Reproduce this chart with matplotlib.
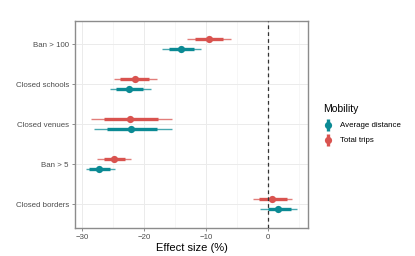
#!/usr/bin/env python3
"""Effect size of interventions on mobility: point ranges per intervention."""
import numpy as np
import matplotlib
matplotlib.use("Agg")
import matplotlib.pyplot as plt
from matplotlib.lines import Line2D
from matplotlib.legend_handler import HandlerTuple

plt.rcParams["font.family"] = ["Liberation Sans", "DejaVu Sans"]

interventions = ["Ban > 100", "Closed schools", "Closed venues", "Ban > 5", "Closed borders"]

# Total trips
trips_mid = [-9.5, -21.5, -22.2, -24.8, 0.75]
trips_lo80 = [-11.7, -23.8, -26.4, -26.5, -1.35]
trips_hi80 = [-7.2, -19.1, -17.7, -23.1, 3.1]
trips_lo95 = [-13.0, -24.8, -28.5, -27.5, -2.4]
trips_hi95 = [-5.9, -17.9, -15.5, -22.1, 4.0]

# Average distance
dist_mid = [-14.0, -22.4, -22.1, -27.2, 1.7]
dist_lo80 = [-15.9, -24.5, -26.0, -28.8, 0.0]
dist_hi80 = [-11.9, -20.2, -17.9, -25.5, 3.75]
dist_lo95 = [-17.0, -25.5, -28.0, -29.4, -1.25]
dist_hi95 = [-10.8, -18.9, -15.5, -24.6, 4.8]

RED = "#d9534f"
TEAL = "#0b8a94"


def main():
    fig = plt.figure(figsize=(4.15, 2.56), dpi=100)
    ax = fig.add_axes([0.181, 0.109, 0.561, 0.809])

    ypos = np.arange(len(interventions))[::-1] + 1.0
    series = [
        (trips_mid, trips_lo80, trips_hi80, trips_lo95, trips_hi95, RED, 0.125),
        (dist_mid, dist_lo80, dist_hi80, dist_lo95, dist_hi95, TEAL, -0.125),
    ]
    for mid, lo80, hi80, lo95, hi95, color, off in series:
        y = ypos + off
        ax.hlines(y, lo95, hi95, color=color, lw=1.0, alpha=0.75, zorder=3)
        ax.hlines(y, lo80, hi80, color=color, lw=2.4, zorder=4)
        ax.plot(mid, y, "o", color=color, ms=5.2, zorder=5, mew=0)

    ax.axvline(0, color="#333333", lw=0.9, ls=(0, (3, 2.5)), zorder=6)

    ax.set_xlim(-31.1, 6.5)
    ax.set_ylim(0.4, 5.575)
    ax.set_xticks([-30, -20, -10, 0])
    ax.set_xticks([-25, -15, -5, 5], minor=True)
    ax.set_xticklabels(["\u221230", "\u221220", "\u221210", "0"])
    ax.set_yticks(ypos)
    ax.set_yticklabels(interventions)

    ax.grid(True, which="major", color="#ebebeb", lw=0.7)
    ax.grid(True, which="minor", axis="x", color="#f3f3f3", lw=0.5)
    ax.set_axisbelow(True)
    for s in ax.spines.values():
        s.set_color("#8c8c8c")
        s.set_linewidth(1.0)
    ax.tick_params(axis="both", which="major", labelsize=5.7, colors="#8c8c8c",
                   labelcolor="#4d4d4d", length=2.5, width=0.7, pad=2)
    ax.tick_params(which="minor", length=0)
    ax.set_xlabel("Effect size (%)", fontsize=8, labelpad=1)

    handles = [
        (Line2D([], [], color=TEAL, marker="|", ms=9, mew=2.4, ls="none"),
         Line2D([], [], color=TEAL, marker="o", ms=5.2, mew=0, ls="none")),
        (Line2D([], [], color=RED, marker="|", ms=9, mew=2.4, ls="none"),
         Line2D([], [], color=RED, marker="o", ms=5.2, mew=0, ls="none")),
    ]
    leg = fig.legend(handles, ["Average distance", "Total trips"], title="Mobility",
                     handler_map={tuple: HandlerTuple(ndivide=1, pad=0)},
                     loc="upper left", bbox_to_anchor=(0.772, 0.605), frameon=False,
                     fontsize=5.7, title_fontsize=7.5, handlelength=1.2,
                     handletextpad=0.9, labelspacing=0.95, borderaxespad=0)
    leg._legend_box.align = "left"

    fig.savefig("out.png", dpi=100, facecolor="white")
    plt.close(fig)


if __name__ == "__main__":
    main()
